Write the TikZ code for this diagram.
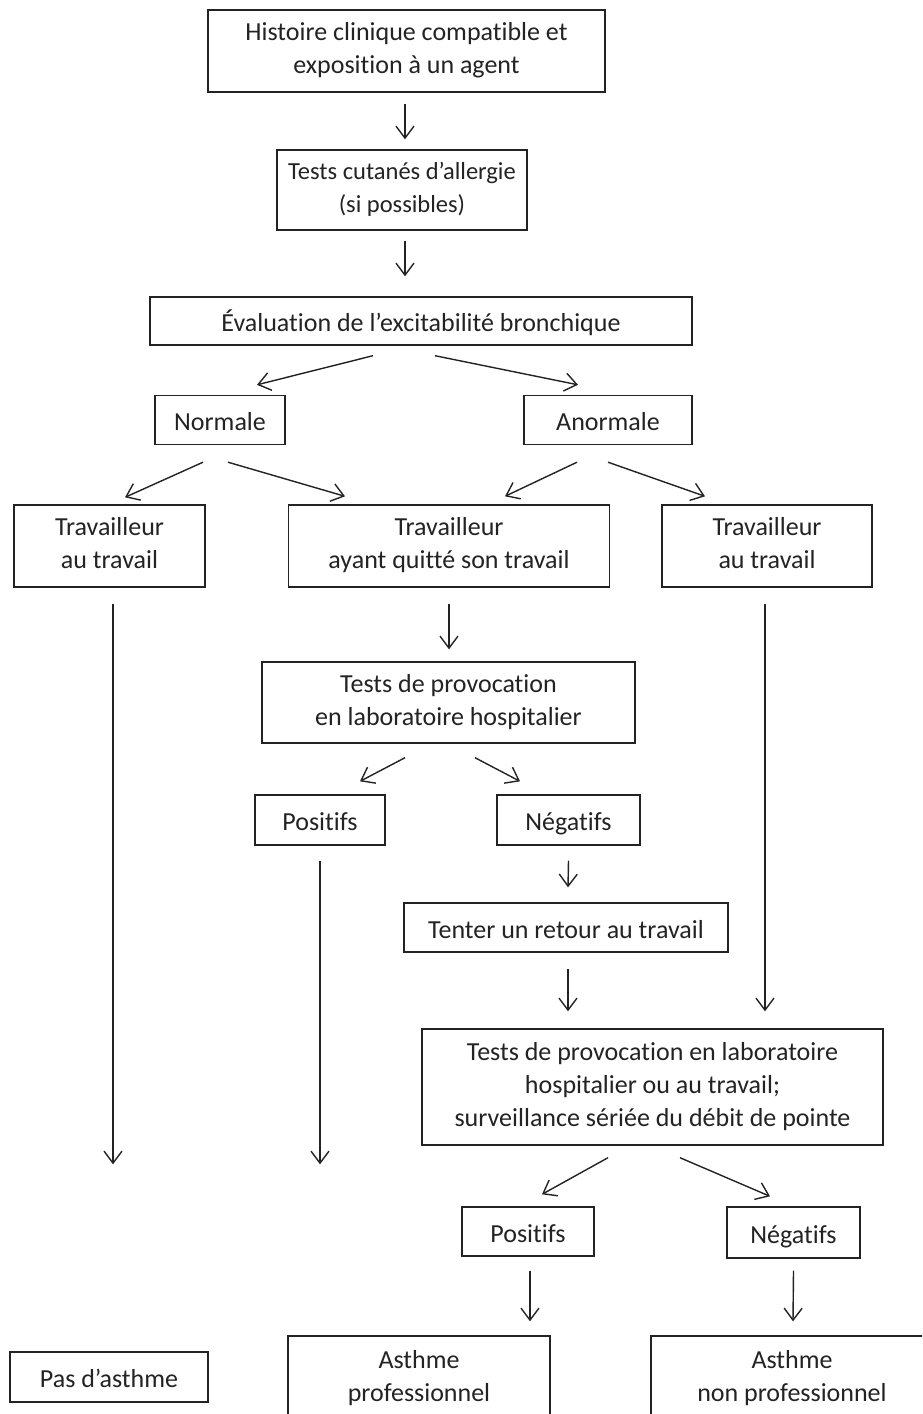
\documentclass[tikz,border=0pt]{standalone}
\usepackage{fontspec}
\setmainfont{Carlito}[Ligatures=NoCommon]
\usetikzlibrary{arrows.meta,calc}
\definecolor{ink}{RGB}{35,35,35}
\newcommand\boxstrut{\rule[-6pt]{0pt}{33pt}}
\begin{document}
\begin{tikzpicture}[x=1pt, y=-1pt,
  box/.style={rectangle, draw=ink, line width=1.4pt, text=ink, align=center,
    inner sep=0pt, font={\fontsize{26}{33}\selectfont},
    execute at begin node=\boxstrut, execute at end node=\boxstrut},
  arr/.style={draw=ink, line width=1.4pt, -{Straight Barb[length=12pt, width=18pt, line width=1.4pt]}}
]
\useasboundingbox (0,0) rectangle (922,1414);
\clip (0,0) rectangle (922,1414);
\fill[white] (0,0) rectangle (922,1414);

% boxes
\node[box, minimum width=397pt, minimum height=82pt] (hist) at (406.5,51) {Histoire clinique compatible et\\exposition à un agent};
\node[box, minimum width=250pt, minimum height=80pt, font={\fontsize{24.5}{33}\selectfont}] (cut) at (402,190) {Tests cutanés d’allergie\\(si possibles)};
\node[box, minimum width=542pt, minimum height=48pt] (eval) at (421,321) {Évaluation de l’excitabilité bronchique};
\node[box, minimum width=130pt, minimum height=49pt] (normale) at (220,420) {Normale};
\node[box, minimum width=168pt, minimum height=49pt] (anormale) at (608,420) {Anormale};
\node[box, minimum width=191pt, minimum height=82pt] (trav1) at (109.5,546) {Travailleur\\au travail};
\node[box, minimum width=321pt, minimum height=82pt] (quit) at (449,546) {Travailleur\\ayant quitté son travail};
\node[box, minimum width=210pt, minimum height=82pt] (trav2) at (767,546) {Travailleur\\au travail};
\node[box, minimum width=373pt, minimum height=81pt] (prov1) at (448.5,702.5) {Tests de provocation\\en laboratoire hospitalier};
\node[box, minimum width=130pt, minimum height=50pt] (pos1) at (320,820) {Positifs};
\node[box, minimum width=143pt, minimum height=50pt] (neg1) at (568.5,820) {Négatifs};
\node[box, minimum width=324pt, minimum height=49pt] (retour) at (566,927.5) {Tenter un retour au travail};
\node[box, minimum width=461pt, minimum height=116pt] (prov2) at (652.5,1087) {Tests de provocation en laboratoire\\hospitalier ou au travail;\\surveillance sériée du débit de pointe};
\node[box, minimum width=132pt, minimum height=49pt] (pos2) at (528,1231.5) {Positifs};
\node[box, minimum width=133pt, minimum height=51pt] (neg2) at (793.5,1232.5) {Négatifs};
\node[box, minimum width=198pt, minimum height=50pt] (pas) at (109,1377) {Pas d’asthme};
\node[box, minimum width=262pt, minimum height=86pt] (asprof) at (419,1379) {Asthme\\professionnel};
\node[box, minimum width=282pt, minimum height=86pt] (asnon) at (792,1379) {Asthme\\non professionnel};

% arrows
\draw[arr] ($(hist.south)+(-1.5,11)$) -- ($(cut.north)+(3,-10)$);
\draw[arr] ($(cut.south)+(3,10)$) -- ($(eval.north)+(-16,-20)$);
\draw[arr] ($(eval.south)+(-48,10)$) -- ($(normale.north)+(37,-10)$);
\draw[arr] ($(eval.south)+(14,10)$) -- ($(anormale.north)+(-30,-10)$);
\draw[arr] ($(normale.south)+(-17,17)$) -- ($(trav1.north)+(15.5,-7)$);
\draw[arr] ($(normale.south)+(8,17)$) -- ($(quit.north)+(-104,-8)$);
\draw[arr] ($(anormale.south)+(-31,17)$) -- ($(quit.north)+(56,-8)$);
\draw[arr] ($(anormale.south)+(0,17)$) -- ($(trav2.north)+(-62,-8)$);
\draw[arr] ($(trav1.south)+(3.5,16)$) -- ($(pas.north)+(4,-187)$);
\draw[arr] ($(quit.south)+(0,16)$) -- ($(prov1.north)+(0.5,-12)$);
\draw[arr] ($(trav2.south)+(-2,16)$) -- ($(prov2.north)+(112.5,-17)$);
\draw[arr] ($(prov1.south)+(-43.5,14)$) -- ($(pos1.north)+(40,-13)$);
\draw[arr] ($(prov1.south)+(26.5,14)$) -- ($(neg1.north)+(-48.5,-13)$);
\draw[arr] ($(pos1.south)+(0,15)$) -- ($(asprof.north)+(-99,-171)$);
\draw[arr] ($(neg1.south)+(0,15)$) -- ($(retour.north)+(2,-15)$);
\draw[arr] ($(retour.south)+(2,16)$) -- ($(prov2.north)+(-84.5,-17)$);
\draw[arr] ($(prov2.south)+(-44.5,12)$) -- ($(pos2.north)+(14,-12)$);
\draw[arr] ($(prov2.south)+(27.5,12)$) -- ($(neg2.north)+(-23.5,-10)$);
\draw[arr] ($(pos2.south)+(2,14)$) -- ($(asprof.north)+(111,-14)$);
\draw[arr] ($(neg2.south)+(0,12)$) -- ($(asnon.north)+(1,-14)$);
\end{tikzpicture}
\end{document}
